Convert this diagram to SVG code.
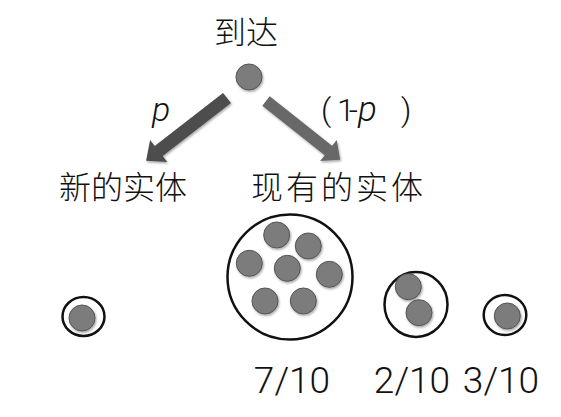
<svg xmlns="http://www.w3.org/2000/svg" width="561" height="417" viewBox="0 0 561 417">
<defs>
<filter id="sh" x="-30%" y="-30%" width="160%" height="160%">
<feDropShadow dx="1" dy="1.5" stdDeviation="1.2" flood-color="#000" flood-opacity="0.35"/>
</filter>
</defs>
<style>
.dot{fill:#7b7b7b;stroke:#555;stroke-width:1;filter:url(#sh)}
.ring{fill:#fff;stroke:#111;stroke-width:2.5}
.cjk{font-family:"Noto Sans CJK SC",sans-serif;font-weight:300;font-size:32px;fill:#111}
.lat{font-family:Roboto,"Liberation Sans",sans-serif;font-weight:300;fill:#111}
</style>
<rect width="561" height="417" fill="#fff"/>
<g id="arrive">
<text class="cjk" x="246" y="44" text-anchor="middle">到达</text>
<circle class="dot" cx="249" cy="77" r="13"/>
</g>
<g id="connectors">
<polygon fill="#4e4e4e" filter="url(#sh)" points="231,103.1 223,92.9 154.7,145.9 150.1,139.9 146.1,160.8 167.3,162.1 162.7,156.1"/>
<polygon fill="#686868" filter="url(#sh)" points="262.3,105.7 269.7,96.3 332.1,145.8 336.7,140 340.2,159.8 320.1,161 324.7,155.2"/>
<text class="lat" x="152" y="121" font-size="34" font-style="italic">p</text>
<text class="lat" x="321" y="121" font-size="32">(</text>
<text class="lat" x="337" y="121" font-size="32">1<tspan dx="-6">-</tspan><tspan dx="0" font-style="italic" font-size="35">p</tspan></text>
<text class="lat" x="401" y="121" font-size="32">)</text>
</g>
<g id="new-entity">
<text class="cjk" x="59" y="199">新的实体</text>
<ellipse class="ring" cx="83.5" cy="316.5" rx="21" ry="19.5"/>
<circle class="dot" cx="82" cy="318" r="13"/>
</g>
<g id="existing-entity">
<text class="cjk" x="251" y="199" letter-spacing="3">现有的实体</text>
</g>
<g id="group-7">
<circle class="ring" cx="290" cy="277" r="62.5"/>
<circle class="dot" cx="276.7" cy="235" r="13"/>
<circle class="dot" cx="308.3" cy="246" r="13"/>
<circle class="dot" cx="249.3" cy="263.3" r="13"/>
<circle class="dot" cx="287.3" cy="268.3" r="13"/>
<circle class="dot" cx="329.3" cy="274.3" r="13"/>
<circle class="dot" cx="265" cy="301" r="13"/>
<circle class="dot" cx="303.3" cy="301" r="13"/>
<text class="lat" x="292" y="393" font-size="37" text-anchor="middle">7/10</text>
</g>
<g id="group-2">
<ellipse class="ring" cx="416" cy="304.5" rx="31.5" ry="32.5"/>
<circle class="dot" cx="408.3" cy="286.7" r="13"/>
<circle class="dot" cx="419" cy="312.7" r="13"/>
<text class="lat" x="412" y="393" font-size="37" text-anchor="middle">2/10</text>
</g>
<g id="group-3">
<ellipse class="ring" cx="505" cy="315" rx="21.3" ry="20"/>
<circle class="dot" cx="507.3" cy="316" r="13"/>
<text class="lat" x="501" y="393" font-size="37" text-anchor="middle">3/10</text>
</g>
</svg>
